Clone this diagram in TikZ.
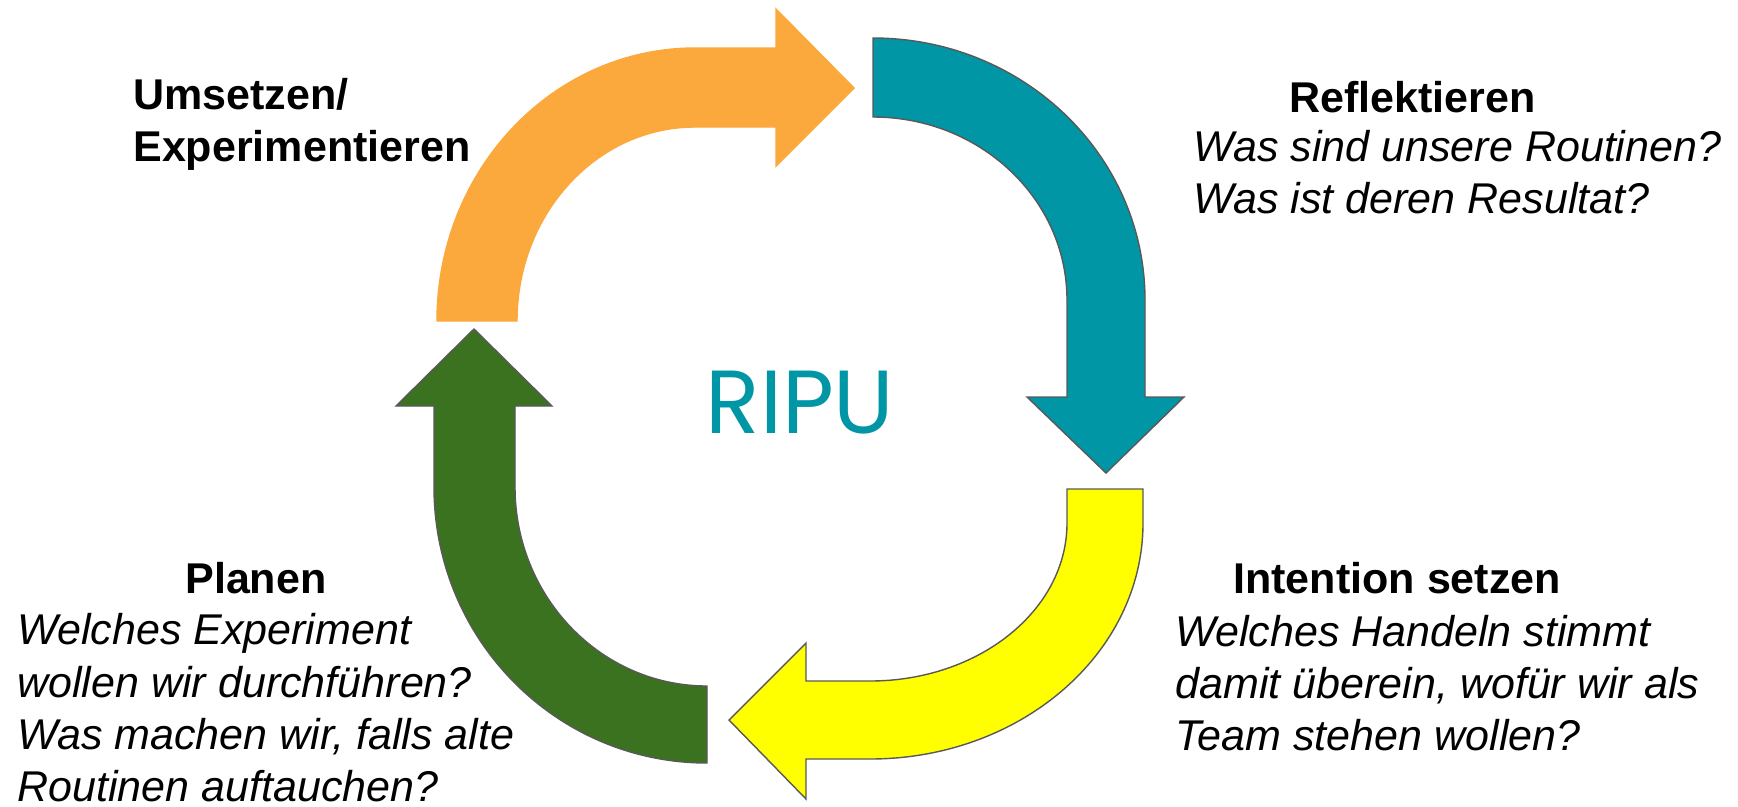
\documentclass[tikz,border=0pt]{standalone}
\usepackage{fontspec}
\setmainfont{Liberation Sans}
\newfontfamily\ripufont{Poppins}
\definecolor{ripuorange}{HTML}{FBA83C}
\definecolor{riputeal}{HTML}{0096A6}
\definecolor{ripuyellow}{HTML}{FFFF00}
\definecolor{ripugreen}{HTML}{3B721F}

\begin{document}
\begin{tikzpicture}[x=0.02cm, y=-0.02cm,
    band/.style={line width=0.8pt, draw=black!65},
    head/.style={font=\fontsize{24.5}{29.6}\selectfont\bfseries, inner sep=0pt, align=left, anchor=base west},
    quest/.style={font=\fontsize{24.5}{29.6}\selectfont\itshape, inner sep=0pt, align=left, anchor=base west}]
    \useasboundingbox (0,0) rectangle (1738,806);
    % Umsetzen: up on the left, head pointing right
    \filldraw[band, fill=ripuorange, draw=ripuorange] (437,321)
        arc[start angle=180, end angle=270, x radius=258, y radius=273]
        -- (776,48) -- (776,9) -- (854,88) -- (776,166) -- (776,127) -- (695,127)
        arc[start angle=270, end angle=180, x radius=178, y radius=194] -- cycle;
    % Reflektieren: over the top right, head pointing down
    \filldraw[band, fill=riputeal] (873,38)
        arc[start angle=270, end angle=360, x radius=272, y radius=262]
        -- (1145,397) -- (1184,397) -- (1106,473) -- (1027,397) -- (1067,397) -- (1067,300)
        arc[start angle=0, end angle=-90, x radius=194, y radius=183] -- cycle;
    % Intention setzen: down the right, head pointing left
    \filldraw[band, fill=ripuyellow] (1143,489) -- (1143,523)
        arc[start angle=0, end angle=90, x radius=273, y radius=236]
        -- (806,759) -- (806,799) -- (729,720) -- (806,643) -- (806,681) -- (870,681)
        arc[start angle=90, end angle=0, x radius=197, y radius=158] -- (1067,489) -- cycle;
    % Planen: along the bottom left, head pointing up
    \filldraw[band, fill=ripugreen] (707,763)
        arc[start angle=90, end angle=180, x radius=273, y radius=276]
        -- (434,406) -- (396,406) -- (474,329) -- (552,406) -- (515,406) -- (515,487)
        arc[start angle=180, end angle=90, x radius=192, y radius=199] -- cycle;
    % Centre label
    \node[text=riputeal, font=\ripufont\fontsize{51}{60}\selectfont, inner sep=0pt, anchor=base] (ripu) at (800,433) {RIPU};
    % Labels of the four steps (multi-line nodes sit on their last line)
    \node[head] (umsetzen) at (133,161) {Umsetzen/\\Experimentieren};
    \node[head] (reflektieren) at (1289,112) {Reflektieren};
    \node[quest] (reflektierenfragen) at (1193,213) {Was sind unsere Routinen?\\Was ist deren Resultat?};
    \node[head] (intention) at (1233,593) {Intention setzen};
    \node[quest] (intentionfragen) at (1175,750) {Welches Handeln stimmt\\damit überein, wofür wir als\\Team stehen wollen?};
    \node[head] (planen) at (185,593) {Planen};
    \node[quest] (planenfragen) at (17,801) {Welches Experiment\\wollen wir durchführen?\\Was machen wir, falls alte\\Routinen auftauchen?};
\end{tikzpicture}
\end{document}
